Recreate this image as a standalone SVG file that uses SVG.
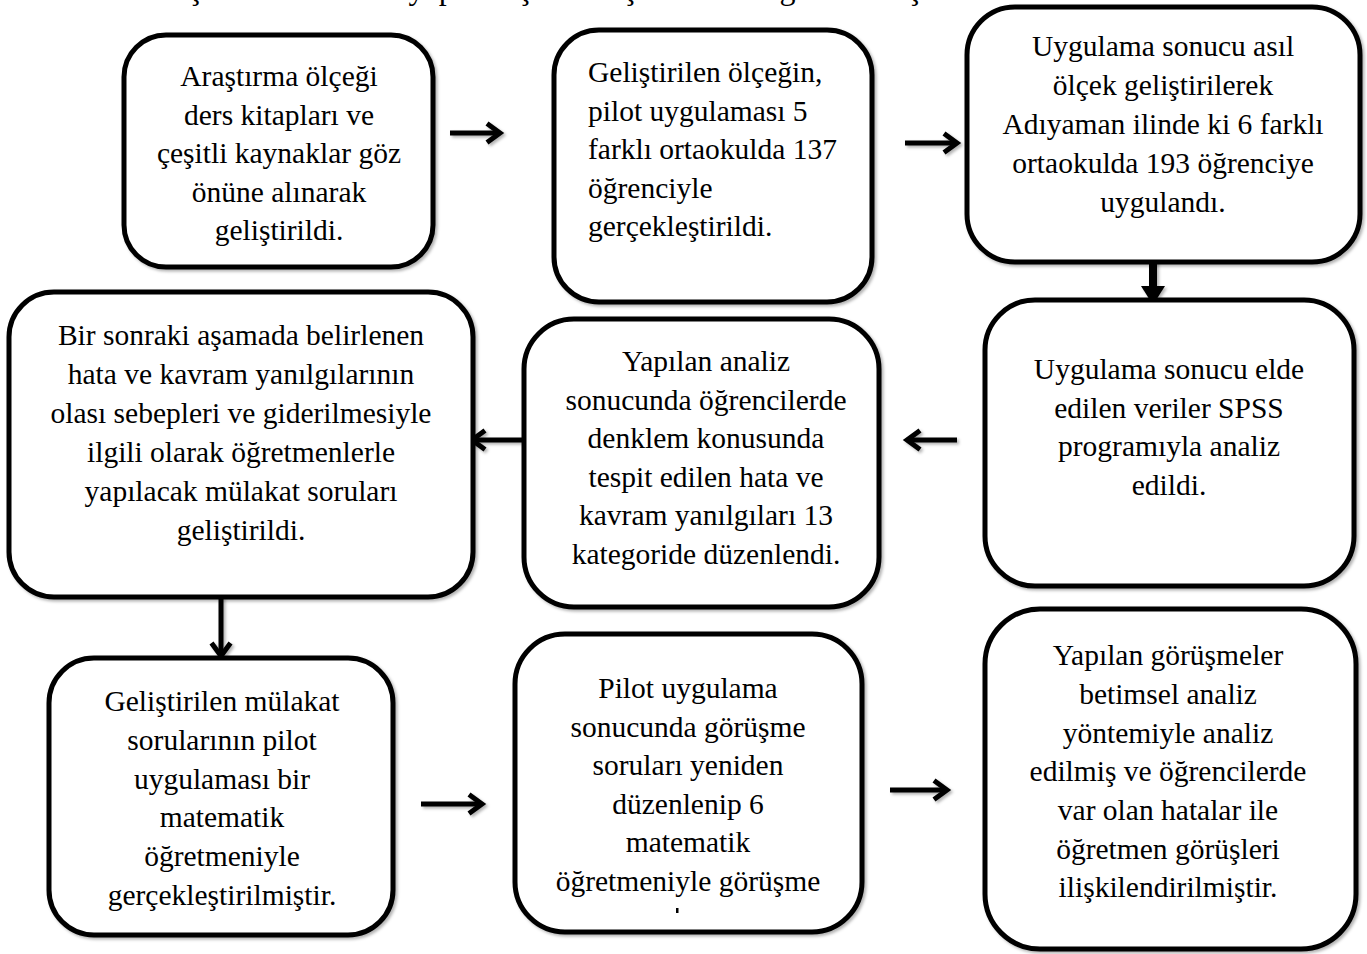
<svg xmlns="http://www.w3.org/2000/svg" width="1367" height="954" viewBox="0 0 1367 954">
<style>
.box{fill:#fff;stroke:#000;stroke-width:5;filter:url(#sh)}
.t{font-family:"Liberation Serif","Times New Roman",serif;font-size:29.5px;fill:#000}
.c{text-anchor:middle}
.ln{stroke:#000;stroke-width:5;fill:none}
</style>
<defs>
<filter id="sh" x="-10%" y="-10%" width="120%" height="120%">
<feDropShadow dx="2" dy="2" stdDeviation="1.5" flood-color="#000" flood-opacity="0.3"/>
</filter>
<marker id="open" viewBox="0 0 24 24" refX="18" refY="12" markerWidth="24" markerHeight="24" markerUnits="userSpaceOnUse" orient="auto">
<path d="M5,2.5 L18,12 L5,21.5" fill="none" stroke="#000" stroke-width="5" stroke-linejoin="miter"/>
</marker>
<marker id="solid" viewBox="0 0 20 24" refX="0" refY="12" markerWidth="20" markerHeight="24" markerUnits="userSpaceOnUse" orient="auto">
<path d="M0,0 L19,12 L0,24 z" fill="#000"/>
</marker>
</defs>
<rect width="1367" height="954" fill="#fff"/>
<text class="t" x="142" y="-1" style="font-size:32px">Araştırma sürecinde yapılan işlemler Şekil 3.1'de gösterilmiştir.</text>

<g id="connectors" filter="url(#sh)">
<line class="ln" x1="450" y1="133" x2="500" y2="133" marker-end="url(#open)"/>
<line class="ln" x1="905" y1="143" x2="957" y2="143" marker-end="url(#open)"/>
<line x1="1153" y1="253" x2="1153" y2="286" stroke="#000" stroke-width="8" marker-end="url(#solid)"/>
<line class="ln" x1="957" y1="440" x2="907" y2="440" marker-end="url(#open)"/>
<line class="ln" x1="522" y1="440" x2="472" y2="440" marker-end="url(#open)"/>
<line class="ln" x1="221" y1="597" x2="221" y2="656" marker-end="url(#open)"/>
<line class="ln" x1="421" y1="804" x2="482" y2="804" marker-end="url(#open)"/>
<line class="ln" x1="890" y1="790" x2="947" y2="790" marker-end="url(#open)"/>
</g>

<g id="n1">
<rect class="box" x="124" y="35" width="309" height="232" rx="42"/>
<text class="t c" x="279"><tspan x="279" y="86">Araştırma ölçeği</tspan><tspan x="279" y="124.5">ders kitapları ve</tspan><tspan x="279" y="163">çeşitli kaynaklar göz</tspan><tspan x="279" y="201.5">önüne alınarak</tspan><tspan x="279" y="240">geliştirildi.</tspan></text>
</g>

<g id="n2">
<rect class="box" x="554" y="30" width="318" height="272" rx="45"/>
<text class="t"><tspan x="588" y="82">Geliştirilen ölçeğin,</tspan><tspan x="588" y="120.5">pilot uygulaması 5</tspan><tspan x="588" y="159">farklı ortaokulda 137</tspan><tspan x="588" y="197.5">öğrenciyle</tspan><tspan x="588" y="236">gerçekleştirildi.</tspan></text>
</g>

<g id="n3">
<rect class="box" x="967" y="7" width="393" height="255" rx="48"/>
<text class="t c"><tspan x="1163" y="56">Uygulama sonucu asıl</tspan><tspan x="1163" y="95">ölçek geliştirilerek</tspan><tspan x="1163" y="134">Adıyaman ilinde ki 6 farklı</tspan><tspan x="1163" y="173">ortaokulda 193 öğrenciye</tspan><tspan x="1163" y="212">uygulandı.</tspan></text>
</g>

<g id="n4">
<rect class="box" x="985" y="300" width="369" height="286" rx="50"/>
<text class="t c"><tspan x="1169" y="379">Uygulama sonucu elde</tspan><tspan x="1169" y="417.5">edilen veriler SPSS</tspan><tspan x="1169" y="456">programıyla analiz</tspan><tspan x="1169" y="494.5">edildi.</tspan></text>
</g>

<g id="n5">
<rect class="box" x="524" y="319" width="355" height="288" rx="50"/>
<text class="t c"><tspan x="706" y="371">Yapılan analiz</tspan><tspan x="706" y="409.5">sonucunda öğrencilerde</tspan><tspan x="706" y="448">denklem konusunda</tspan><tspan x="706" y="486.5">tespit edilen hata ve</tspan><tspan x="706" y="525">kavram yanılgıları 13</tspan><tspan x="706" y="563.5">kategoride düzenlendi.</tspan></text>
</g>

<g id="n6">
<rect class="box" x="9" y="292" width="464" height="305" rx="45"/>
<text class="t c"><tspan x="241" y="345">Bir sonraki aşamada belirlenen</tspan><tspan x="241" y="384">hata ve kavram yanılgılarının</tspan><tspan x="241" y="423">olası sebepleri ve giderilmesiyle</tspan><tspan x="241" y="462">ilgili olarak öğretmenlerle</tspan><tspan x="241" y="501">yapılacak mülakat soruları</tspan><tspan x="241" y="540">geliştirildi.</tspan></text>
</g>

<g id="n7">
<rect class="box" x="49" y="658" width="344" height="277" rx="45"/>
<text class="t c"><tspan x="222" y="711">Geliştirilen mülakat</tspan><tspan x="222" y="750">sorularının pilot</tspan><tspan x="222" y="788.5">uygulaması bir</tspan><tspan x="222" y="827">matematik</tspan><tspan x="222" y="866">öğretmeniyle</tspan><tspan x="222" y="904.5">gerçekleştirilmiştir.</tspan></text>
</g>

<g id="n8">
<rect class="box" x="515" y="634" width="347" height="298" rx="50"/>
<text class="t c"><tspan x="688" y="698">Pilot uygulama</tspan><tspan x="688" y="736.5">sonucunda görüşme</tspan><tspan x="688" y="775">soruları yeniden</tspan><tspan x="688" y="813.5">düzenlenip 6</tspan><tspan x="688" y="852">matematik</tspan><tspan x="688" y="890.5">öğretmeniyle görüşme</tspan></text>
<rect x="676" y="908" width="2.5" height="5" fill="#000"/>
</g>

<g id="n9">
<rect class="box" x="985" y="609" width="371" height="340" rx="55"/>
<text class="t c"><tspan x="1168" y="665">Yapılan görüşmeler</tspan><tspan x="1168" y="704">betimsel analiz</tspan><tspan x="1168" y="742.5">yöntemiyle analiz</tspan><tspan x="1168" y="781">edilmiş ve öğrencilerde</tspan><tspan x="1168" y="820">var olan hatalar ile</tspan><tspan x="1168" y="858.5">öğretmen görüşleri</tspan><tspan x="1168" y="897">ilişkilendirilmiştir.</tspan></text>
</g>
</svg>
